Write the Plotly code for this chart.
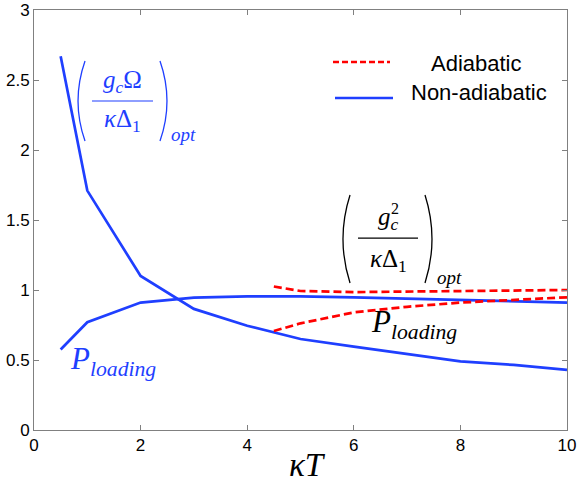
import plotly.graph_objects as go

# kappa*T values
kt_non = [0.5, 1, 2, 3, 4, 5, 6, 7, 8, 9, 10]
kt_ad = [4.5, 5, 6, 7, 8, 9, 10]

# non-adiabatic (blue, solid)
opt_non = [2.67, 1.71, 1.10, 0.865, 0.745, 0.65, 0.595, 0.54, 0.49, 0.465, 0.43]
load_non = [0.575, 0.77, 0.91, 0.945, 0.955, 0.955, 0.948, 0.938, 0.928, 0.918, 0.91]

# adiabatic (red, dashed)
opt_ad = [1.025, 0.993, 0.985, 0.99, 0.995, 1.0, 1.0]
load_ad = [0.707, 0.762, 0.84, 0.88, 0.91, 0.93, 0.948]

x_ticks = [0, 2, 4, 6, 8, 10]
y_ticks = [0, 0.5, 1, 1.5, 2, 2.5, 3]

BLUE = '#1f3fff'
RED = '#ff0000'
SERIF = 'Liberation Serif'
SANS = 'Liberation Sans'

fig = go.Figure()
for y in (opt_non, load_non):
    fig.add_trace(go.Scatter(x=kt_non, y=y, mode='lines', showlegend=False,
                             line=dict(color=BLUE, width=2.7)))
for y in (opt_ad, load_ad):
    fig.add_trace(go.Scatter(x=kt_ad, y=y, mode='lines', showlegend=False,
                             line=dict(color=RED, width=2.7, dash='8px,4px')))


def txt(x, y, text, size, color, xref='x', yref='y', family=SERIF):
    fig.add_annotation(x=x, y=y, xref=xref, yref=yref, text=text, showarrow=False,
                       font=dict(family=family, size=size, color=color),
                       xanchor='center', yanchor='middle')


def frac_label(num, den, x0, x1, ybar, ynum, yden, ptop, pbot, pl, pr, color):
    """Big parenthesised fraction made from text pieces and thin strokes."""
    xc = (x0 + x1) / 2
    txt(xc, ynum, num, 25, color)
    txt(xc, yden, den, 25, color)
    fig.add_shape(type='line', x0=x0, x1=x1, y0=ybar, y1=ybar,
                  line=dict(color=color, width=1.2))
    ym = (ptop + pbot) / 2
    # parentheses as quadratic curves (ends, bulge)
    for xe, xb in (pl, pr):
        cx = 2 * xb - xe
        fig.add_shape(type='path', path=f'M {xe},{ptop} Q {cx},{ym} {xe},{pbot}',
                      line=dict(color=color, width=1.3))


# blue label (g_c Omega / kappa Delta_1)_opt
frac_label('<i>g</i><sub><i>c</i></sub>Ω', '<i>κ</i>Δ<sub>1</sub>',
           1.088, 2.233, 2.35, 2.49, 2.21, 2.636, 2.064,
           (0.957, 0.826), (2.364, 2.495), BLUE)
txt(2.81, 2.11, '<i>opt</i>', 19, BLUE)
txt(1.48, 0.49, '<i>P</i><sub><i>loading</i></sub>', 31, BLUE)

# black label (g_c^2 / kappa Delta_1)_opt
frac_label('<i>g</i><sub><i>c</i></sub>', '<i>κ</i>Δ<sub>1</sub>',
           6.079, 7.205, 1.371, 1.51, 1.21, 1.679, 1.05,
           (5.929, 5.797), (7.336, 7.467), 'black')
txt(6.78, 1.58, '2', 16, 'black')
txt(7.80, 1.09, '<i>opt</i>', 19, 'black')
txt(7.13, 0.76, '<i>P</i><sub><i>loading</i></sub>', 31, 'black')

# legend drawn by hand (MATLAB style, centred text)
px = lambda v: (v - 34) / 533
py = lambda v: (430 - v) / 420
fig.add_shape(type='line', xref='paper', yref='paper', x0=px(333), x1=px(390),
              y0=py(62), y1=py(62), line=dict(color=RED, width=2.5, dash='6px,3px'))
fig.add_shape(type='line', xref='paper', yref='paper', x0=px(335), x1=px(393),
              y0=py(98), y1=py(98), line=dict(color=BLUE, width=2.5))
txt(px(476), py(63), 'Adiabatic', 22, 'black', 'paper', 'paper', SANS)
txt(px(479), py(93), 'Non-adiabatic', 22, 'black', 'paper', 'paper', SANS)

# x axis title
txt(px(307), py(465), '<i>κT</i>', 33, 'black', 'paper', 'paper')

axis = dict(showgrid=False, zeroline=False, showline=True, linecolor='#808080',
            linewidth=1, mirror='ticks', ticks='inside', ticklen=5, automargin=False,
            tickcolor='#808080', tickfont=dict(family=SANS, size=17, color='black'))
fig.update_xaxes(range=[0, 10], tickvals=x_ticks, **axis)
fig.update_yaxes(range=[0, 3], tickvals=y_ticks, **axis)

fig.update_layout(width=581, height=485, margin=dict(l=34, r=14, t=10, b=55),
                  plot_bgcolor='white', paper_bgcolor='white')
# drop the page's default body margin so the figure sits at the window origin
fig.write_html("out.html", config={'displayModeBar': False},
               post_script="document.body.style.margin='0';")
